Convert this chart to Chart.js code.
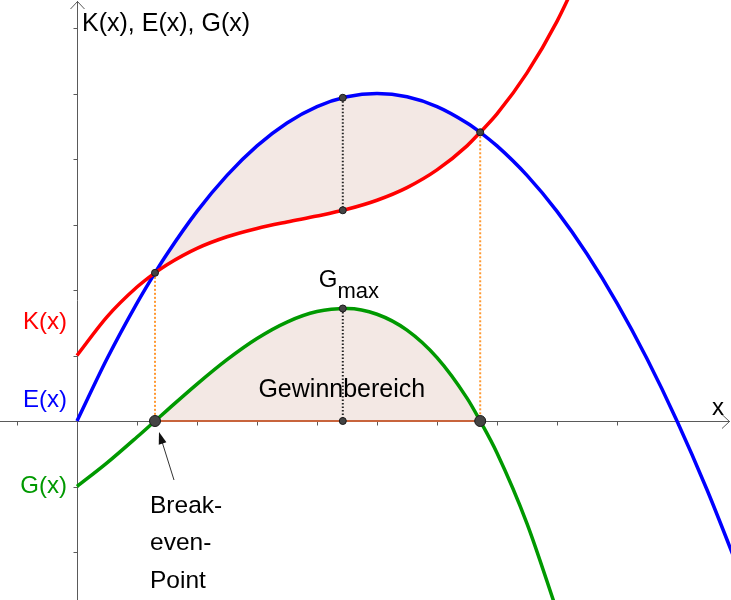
<!DOCTYPE html>
<html lang="de">
<head>
  <meta charset="UTF-8">
  <title>Kosten, Erlös und Gewinn</title>
  <script src="https://cdn.jsdelivr.net/npm/chart.js"></script>
  <style>
    html, body { margin: 0; padding: 0; background: #fff; }
    #wrap { width: 731px; height: 600px; }
  </style>
</head>
<body>
  <div id="wrap"><canvas id="chart" width="731" height="600"></canvas></div>

  <script>
    // Values (1 x-unit = one tick, 1 y-unit = one tick)
    const xs      = [0, 0.5, 1, 1.3, 1.5, 2, 2.5, 3, 3.5, 4, 4.5, 5, 5.5, 6, 6.5, 6.72, 7, 7.5, 8, 8.5, 9, 9.5, 10, 10.5, 11];
    const kValues = [1.0, 1.59, 2.045, 2.262, 2.387, 2.636, 2.813, 2.94, 3.039, 3.129, 3.232, 3.37, 3.563, 3.833, 4.201, 4.408, 4.688, 5.315, 6.102, 7.072, null, null, null, null, null];
    const eValues = [0, 0.95, 1.8, 2.262, 2.55, 3.2, 3.75, 4.2, 4.55, 4.8, 4.95, 5.0, 4.95, 4.8, 4.55, 4.408, 4.2, 3.75, 3.2, 2.55, 1.8, 0.95, 0, -1.05, -2.2];
    const gValues = [-1.0, -0.64, -0.245, 0, 0.163, 0.564, 0.937, 1.26, 1.511, 1.671, 1.718, 1.63, 1.387, 0.967, 0.349, 0, -0.488, -1.565, -2.902, null, null, null, null, null, null];

    const breakEvenX = [1.3, 6.72];
    const breakEvenY = [2.262, 4.408];
    const gmaxX = 4.43;
    const gmaxE = 4.935;
    const gmaxK = 3.217;
    const gmaxG = 1.718;

    const xTicks = [-1, 1, 2, 3, 4, 5, 6, 7, 8, 9, 10];
    const yTicks = [-2, -1, 1, 2, 3, 4, 5, 6];

    const RED = '#ff0000';
    const BLUE = '#0000ff';
    const GREEN = '#009900';
    const FILL = '#f3e8e4';
    const ORANGE = '#ff9933';
    const FONT = '"Liberation Sans", Arial, sans-serif';

    const pts = (xArr, yArr) => xArr.map((x, i) => ({ x: x, y: yArr[i] }));

    // profit region runs from the first to the second break-even point
    const i0 = xs.indexOf(breakEvenX[0]);
    const i1 = xs.indexOf(breakEvenX[1]) + 1;
    const fillXs = xs.slice(i0, i1);

    const curve = (data, color) => ({
      data: data, borderColor: color, borderWidth: 3.5, pointRadius: 0,
      cubicInterpolationMode: 'monotone', fill: false, order: 1
    });
    const dotted = (data, color, dash) => ({
      data: data, borderColor: color, borderWidth: 2, borderDash: dash,
      pointRadius: 0, fill: false, order: 2
    });
    const dots = (data, r) => ({
      data: data, showLine: false, pointRadius: r, pointBackgroundColor: '#444',
      pointBorderColor: '#1a1a1a', pointBorderWidth: 1, order: 0
    });

    // axes, ticks and arrow heads underneath everything
    const axesPlugin = {
      id: 'axes',
      beforeDraw(chart) {
        const { ctx, width, height } = chart;
        const x = chart.scales.x, y = chart.scales.y;
        const ox = Math.round(x.getPixelForValue(0)) + 0.5;
        const oy = Math.round(y.getPixelForValue(0)) + 0.5;
        ctx.save();
        ctx.fillStyle = '#fff';
        ctx.fillRect(0, 0, width, height);
        ctx.strokeStyle = '#5a5a5a';
        ctx.lineWidth = 1;
        ctx.beginPath();
        ctx.moveTo(0, oy); ctx.lineTo(width - 1, oy);
        ctx.moveTo(ox, 1); ctx.lineTo(ox, height);
        xTicks.forEach(v => {
          const p = Math.round(x.getPixelForValue(v)) + 0.5;
          ctx.moveTo(p, oy); ctx.lineTo(p, oy + 4);
        });
        yTicks.forEach(v => {
          const p = Math.round(y.getPixelForValue(v)) + 0.5;
          ctx.moveTo(ox - 4, p); ctx.lineTo(ox, p);
        });
        ctx.moveTo(ox - 7, 9); ctx.lineTo(ox, 1.5); ctx.lineTo(ox + 7, 9);
        ctx.moveTo(width - 9, oy - 7); ctx.lineTo(width - 1.5, oy); ctx.lineTo(width - 9, oy + 7);
        ctx.stroke();
        ctx.restore();
      }
    };

    const labelsPlugin = {
      id: 'labels',
      afterDraw(chart) {
        const { ctx } = chart;
        const x = chart.scales.x, y = chart.scales.y;
        const ox = x.getPixelForValue(0), oy = y.getPixelForValue(0);
        ctx.save();
        ctx.textBaseline = 'alphabetic';

        ctx.fillStyle = '#000';
        ctx.font = '25px ' + FONT;
        ctx.fillText('K(x), E(x), G(x)', ox + 5, 31);

        ctx.font = '24px ' + FONT;
        ctx.textAlign = 'right';
        ctx.fillStyle = RED;   ctx.fillText('K(x)', ox - 10, 329);
        ctx.fillStyle = BLUE;  ctx.fillText('E(x)', ox - 10, 407);
        ctx.fillStyle = GREEN; ctx.fillText('G(x)', ox - 10, 493);

        ctx.textAlign = 'left';
        ctx.fillStyle = '#000';
        ctx.fillText('x', 712, 415);

        // G_max
        const gx = x.getPixelForValue(gmaxX), gy = y.getPixelForValue(gmaxG);
        ctx.fillText('G', gx - 24, gy - 21);
        const gw = ctx.measureText('G').width;
        ctx.font = '22px ' + FONT;
        ctx.fillText('max', gx - 24 + gw, gy - 10);

        ctx.font = '25px ' + FONT;
        ctx.textAlign = 'center';
        ctx.fillText('Gewinnbereich', gx - 1, oy - 24);

        // Break-even label with arrow
        const bx = x.getPixelForValue(breakEvenX[0]);
        ctx.font = '24.5px ' + FONT;
        ctx.textAlign = 'left';
        ctx.fillText('Break-', 150, 513);
        ctx.fillText('even-', 150, 550);
        ctx.fillText('Point', 150, 588);

        const tipX = bx + 4, tipY = oy + 11, tailX = bx + 19, tailY = oy + 59;
        const ang = Math.atan2(tipY - tailY, tipX - tailX);
        ctx.strokeStyle = '#333';
        ctx.fillStyle = '#111';
        ctx.lineWidth = 1;
        ctx.beginPath();
        ctx.moveTo(tailX, tailY);
        ctx.lineTo(tipX - 8 * Math.cos(ang), tipY - 8 * Math.sin(ang));
        ctx.stroke();
        ctx.beginPath();
        ctx.moveTo(tipX, tipY);
        ctx.lineTo(tipX - 12 * Math.cos(ang) + 4 * Math.sin(ang), tipY - 12 * Math.sin(ang) - 4 * Math.cos(ang));
        ctx.lineTo(tipX - 12 * Math.cos(ang) - 4 * Math.sin(ang), tipY - 12 * Math.sin(ang) + 4 * Math.cos(ang));
        ctx.closePath();
        ctx.fill();
        ctx.restore();
      }
    };

    new Chart(document.getElementById('chart'), {
      type: 'line',
      data: {
        datasets: [
          // shaded areas
          { data: pts(fillXs, kValues.slice(i0, i1)), borderWidth: 0, pointRadius: 0,
            cubicInterpolationMode: 'monotone', fill: false, order: 4 },
          { data: pts(fillXs, eValues.slice(i0, i1)), borderWidth: 0, pointRadius: 0,
            cubicInterpolationMode: 'monotone', fill: 0, backgroundColor: FILL, order: 4 },
          { data: pts(fillXs, gValues.slice(i0, i1)), borderWidth: 0, pointRadius: 0,
            cubicInterpolationMode: 'monotone', fill: { value: 0 }, backgroundColor: FILL, order: 4 },
          // profit zone on the x axis
          { data: pts(breakEvenX, [0, 0]), borderColor: '#c8643c', borderWidth: 2,
            pointRadius: 0, fill: false, order: 3 },
          // guide lines
          dotted([{ x: breakEvenX[0], y: breakEvenY[0] }, { x: breakEvenX[0], y: 0 }], ORANGE, [2, 2]),
          dotted([{ x: breakEvenX[1], y: breakEvenY[1] }, { x: breakEvenX[1], y: 0 }], ORANGE, [2, 2]),
          dotted([{ x: gmaxX, y: gmaxE }, { x: gmaxX, y: gmaxK }], '#222', [1.5, 2]),
          dotted([{ x: gmaxX, y: gmaxG }, { x: gmaxX, y: 0 }], '#222', [1.5, 2]),
          // functions
          curve(pts(xs, kValues), RED),
          curve(pts(xs, eValues), BLUE),
          curve(pts(xs, gValues), GREEN),
          // marked points
          dots([
            { x: breakEvenX[0], y: breakEvenY[0] }, { x: breakEvenX[1], y: breakEvenY[1] },
            { x: gmaxX, y: gmaxE }, { x: gmaxX, y: gmaxK }, { x: gmaxX, y: gmaxG }, { x: gmaxX, y: 0 }
          ], 3.5),
          dots(pts(breakEvenX, [0, 0]), 5.5)
        ]
      },
      options: {
        responsive: false,
        animation: false,
        layout: { padding: 0, autoPadding: false },
        scales: {
          x: { type: 'linear', min: -77 / 60, max: 654 / 60, display: false },
          y: { type: 'linear', min: -179 / 65.5, max: 421 / 65.5, display: false }
        },
        plugins: {
          legend: { display: false },
          tooltip: { enabled: false },
          filler: { drawTime: 'beforeDatasetsDraw' }
        }
      },
      plugins: [axesPlugin, labelsPlugin]
    });
  </script>
</body>
</html>
